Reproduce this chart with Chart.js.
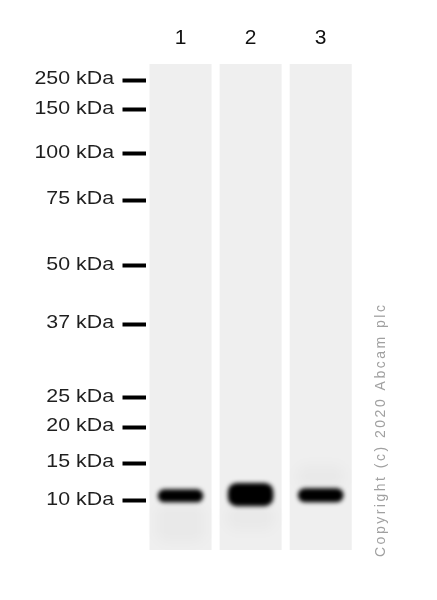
<!DOCTYPE html>
<html><head><meta charset="utf-8">
<script src="https://cdn.jsdelivr.net/npm/chart.js@4.4.0/dist/chart.umd.min.js"></script>
<style>html,body{margin:0;padding:0;background:#fff;}#wrap{width:437px;height:600px;position:relative;}</style>
</head><body><div id="wrap"><canvas id="c"></canvas></div>
<script>
// Lanes (x categories)
const laneLabels = ['1', '2', '3'];
// Molecular weight markers (kDa) and their relative migration (% of lane length)
const markerKDa = [250, 150, 100, 75, 50, 37, 25, 20, 15, 10];
const markerMobility = [3.3, 9.3, 18.5, 28.0, 41.4, 53.5, 68.7, 74.7, 82.1, 89.9];
// Detected band (~11 kDa) extent per lane, in migration %
const bandTop = [87.5, 86.2, 87.3];
const bandBottom = [90.2, 91.0, 90.2];
// Faint background smear per lane
const smearTop = [90.5, 90.5, 82.5];
const smearBottom = [98.5, 96.0, 87.2];
const copyrightText = 'Copyright (c) 2020 Abcam plc';

const FONT = '"Liberation Sans", Arial, sans-serif';

const blurPlugin = {
  id: 'blur',
  beforeDatasetDraw(chart, args) {
    const b = chart.data.datasets[args.index].blur;
    if (b) { chart.ctx.save(); chart.ctx.filter = 'blur(' + b + 'px)'; }
  },
  afterDatasetDraw(chart, args) {
    if (chart.data.datasets[args.index].blur) chart.ctx.restore();
  }
};

const textPlugin = {
  id: 'texts',
  afterDraw(chart) {
    const ctx = chart.ctx;
    const ys = chart.scales.y;
    const tl = ys.options.grid.tickLength;
    const xr = ys.right - tl - 8.5;
    ctx.save();
    ctx.fillStyle = '#1f1f1f';
    ctx.font = '17.5px ' + FONT;
    ctx.textAlign = 'right';
    ctx.textBaseline = 'middle';
    markerKDa.forEach((k, i) => {
      const y = ys.getPixelForValue(markerMobility[i]);
      ctx.save();
      ctx.translate(xr, y - 0.5);
      ctx.scale(1.22, 1);
      ctx.fillText(k + ' kDa', 0, 0);
      ctx.restore();
    });
    ctx.restore();
    // copyright
    const ca = chart.chartArea;
    ctx.save();
    ctx.translate(ca.right + 25, ca.bottom + 7);
    ctx.rotate(-Math.PI / 2);
    ctx.fillStyle = '#a0a0a0';
    ctx.font = '14px ' + FONT;
    ctx.letterSpacing = '2.5px';
    ctx.textAlign = 'left';
    ctx.textBaseline = 'middle';
    ctx.fillText(copyrightText, 0, 0);
    ctx.restore();
  }
};

new Chart(document.getElementById('c'), {
  type: 'bar',
  data: {
    labels: laneLabels,
    datasets: [
      {
        label: 'Band',
        data: bandTop.map((t, i) => [t, bandBottom[i]]),
        backgroundColor: '#000',
        borderRadius: 9,
        borderSkipped: false,
        grouped: false,
        categoryPercentage: 1,
        barPercentage: 0.65,
        blur: 2.2
      },
      {
        label: 'Smear',
        data: smearTop.map((t, i) => [t, smearBottom[i]]),
        backgroundColor: 'rgba(0,0,0,0.025)',
        borderRadius: 10,
        borderSkipped: false,
        grouped: false,
        categoryPercentage: 1,
        barPercentage: 0.7,
        blur: 6
      },
      {
        label: 'Lane',
        data: laneLabels.map(() => [0, 100]),
        backgroundColor: '#efefef',
        grouped: false,
        categoryPercentage: 1,
        barPercentage: 0.885
      }
    ]
  },
  options: {
    responsive: true,
    maintainAspectRatio: false,
    animation: false,
    layout: { padding: { left: 0, right: 81.25, top: 0, bottom: 50 } },
    plugins: { legend: { display: false }, tooltip: { enabled: false }, title: { display: false } },
    scales: {
      x: {
        position: 'top',
        grid: { display: false, drawTicks: false },
        border: { display: false },
        ticks: { color: '#111', font: { family: FONT, size: 21 }, padding: 13 },
        afterFit(s) { s.height = 64; }
      },
      y: {
        type: 'linear',
        reverse: true,
        min: 0,
        max: 100,
        afterBuildTicks(s) { s.ticks = markerMobility.map(v => ({ value: v })); },
        ticks: { display: false },
        grid: { display: true, drawOnChartArea: false, drawTicks: true, tickLength: 23, tickWidth: 4, tickColor: '#000' },
        border: { display: false },
        afterFit(s) { s.width = 145.5; }
      }
    }
  },
  plugins: [blurPlugin, textPlugin]
});
</script></body></html>
